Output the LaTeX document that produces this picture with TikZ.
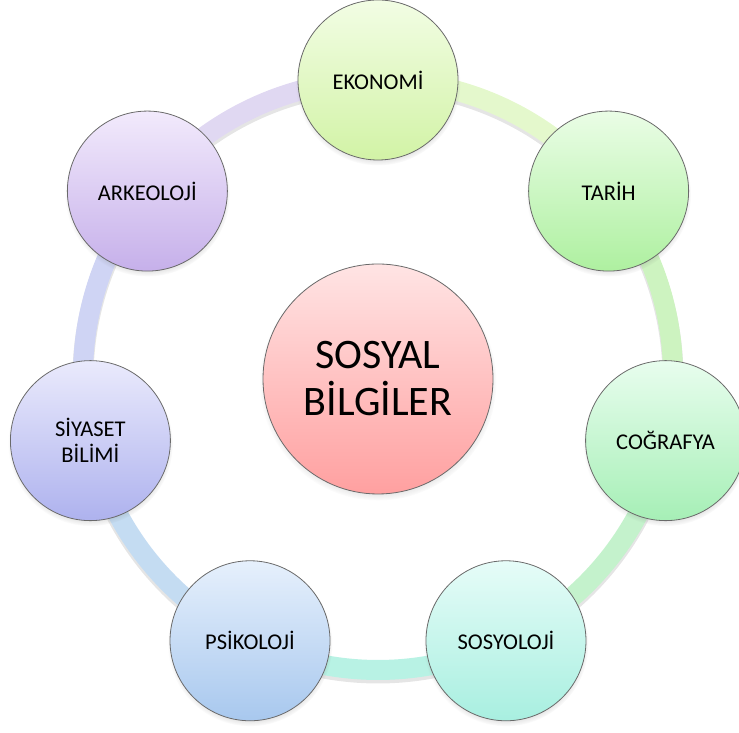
\documentclass[tikz,border=0pt]{standalone}
\usepackage{fontspec}
\setmainfont{Carlito}
\usetikzlibrary{shadows,fadings,calc}

% node fills (top / bottom of each gradient) and ring band colours
\definecolor{ekoT}{HTML}{F2FDE4}\definecolor{ekoB}{HTML}{D2F3A6}\definecolor{ekoR}{HTML}{E4F8CC}
\definecolor{tarT}{HTML}{EAFDE6}\definecolor{tarB}{HTML}{AEF0A0}\definecolor{tarR}{HTML}{CDF3C0}
\definecolor{cogT}{HTML}{E8FDEE}\definecolor{cogB}{HTML}{A6EFB6}\definecolor{cogR}{HTML}{C4F2CC}
\definecolor{sosT}{HTML}{E6FCF8}\definecolor{sosB}{HTML}{A8EFE0}\definecolor{sosR}{HTML}{B8F2E4}
\definecolor{psiT}{HTML}{E6F0FC}\definecolor{psiB}{HTML}{A8C8EE}\definecolor{psiR}{HTML}{C4DCF2}
\definecolor{siyT}{HTML}{EAEAFC}\definecolor{siyB}{HTML}{AEB2EE}\definecolor{siyR}{HTML}{CFD4F4}
\definecolor{arkT}{HTML}{F2EAFC}\definecolor{arkB}{HTML}{C6B0EA}\definecolor{arkR}{HTML}{E0D8F2}
\definecolor{midT}{HTML}{FFE4E4}\definecolor{midB}{HTML}{FFA0A0}
\definecolor{rim}{HTML}{6A6A6A}

\tikzset{
  bubble/.style={circle, draw=rim, line width=0.8pt, minimum size=160pt, inner sep=0pt,
    align=center, text=black, font=\fontsize{22.5}{26}\selectfont,
    circular drop shadow={shadow scale=1.03, shadow xshift=0pt, shadow yshift=-3pt,
      opacity=0.35, fill=black!60}},
  hub/.style={bubble, minimum size=230pt, font=\fontsize{42}{47}\selectfont,
    top color=midT, bottom color=midB},
  band/.style={line width=20pt, line cap=butt},
  bandshadow/.style={line width=21pt, draw=black, opacity=0.10},
}

\begin{document}
\begin{tikzpicture}[x=1pt,y=1pt]
\useasboundingbox (0,0) rectangle (739,733);

% centre of the ring and its radius
\coordinate (c) at (378,358);
\def\R{295}
\def\st{51.4286}

% ring segments between neighbouring bubbles, each in the colour of the one it leaves
\foreach \k/\col in {0/ekoR,1/tarR,2/cogR,3/sosR,4/psiR,5/siyR,6/arkR}{
  \pgfmathsetmacro\a{90-\k*\st}
  \pgfmathsetmacro\b{90-(\k+1)*\st}
  \draw[bandshadow] ([yshift=-3pt]c) ++(\a:\R) arc[start angle=\a, end angle=\b, radius=\R];
  \draw[band, draw=\col] (c) ++(\a:\R) arc[start angle=\a, end angle=\b, radius=\R];
}

% the seven outer bubbles
\node[bubble, top color=ekoT, bottom color=ekoB] (eko) at ($(c)+(90:\R)$) {EKONOMİ};
\node[bubble, top color=tarT, bottom color=tarB] (tar) at ($(c)+({90-\st}:\R)$) {TARİH};
\node[bubble, top color=cogT, bottom color=cogB] (cog) at ($(c)+({90-2*\st}:\R)$) {COĞRAFYA};
\node[bubble, top color=sosT, bottom color=sosB] (sos) at ($(c)+({90-3*\st}:\R)$) {SOSYOLOJİ};
\node[bubble, top color=psiT, bottom color=psiB] (psi) at ($(c)+({90-4*\st}:\R)$) {PSİKOLOJİ};
\node[bubble, top color=siyT, bottom color=siyB] (siy) at ($(c)+({90-5*\st}:\R)$) {SİYASET\\BİLİMİ};
\node[bubble, top color=arkT, bottom color=arkB] (ark) at ($(c)+({90-6*\st}:\R)$) {ARKEOLOJİ};

% the hub
\node[hub] (mid) at (378,354) {SOSYAL\\BİLGİLER};
\end{tikzpicture}
\end{document}
